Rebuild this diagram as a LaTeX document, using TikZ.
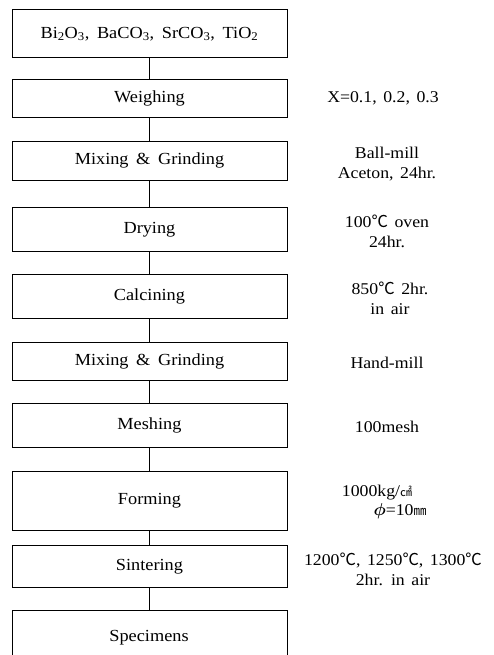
\documentclass[tikz,border=0pt]{standalone}
\usepackage{amsmath}
\usepackage{fontspec}
\setmainfont{Liberation Serif}[FakeStretch=1.08]
\newfontfamily\cjk{Noto Sans CJK KR}
\newcommand{\degc}{{\cjk ℃}}
\newcommand{\boxfont}{\fontsize{17}{20}\selectfont\spaceskip=0.45em plus 0.1em\relax}
\newcommand{\notefont}{\fontsize{16.5}{20}\selectfont\spaceskip=0.4em plus 0.1em\relax}
\begin{document}
\begin{tikzpicture}[x=1bp,y=-1bp,
  stepbox/.style={draw,line width=0.9bp,minimum width=275bp,inner sep=0pt,anchor=north west,font=\boxfont},
  note/.style={align=center,inner sep=0pt,font=\notefont},
  link/.style={line width=0.9bp}]
\useasboundingbox (0,0) rectangle (494,655);
\node[stepbox,minimum height=48bp] (s0) at (11.5,9.5) {Bi\textsubscript{2}O\textsubscript{3}, BaCO\textsubscript{3}, SrCO\textsubscript{3}, TiO\textsubscript{2}};
\node[stepbox,minimum height=38bp] (s1) at (11.5,79) {Weighing};
\node[stepbox,minimum height=39bp] (s2) at (11.5,141) {Mixing \& Grinding};
\node[stepbox,minimum height=44bp] (s3) at (11.5,207) {Drying};
\node[stepbox,minimum height=44bp] (s4) at (11.5,274) {Calcining};
\node[stepbox,minimum height=38bp] (s5) at (11.5,342) {Mixing \& Grinding};
\node[stepbox,minimum height=44bp] (s6) at (11.5,403) {Meshing};
\node[stepbox,minimum height=59bp] (s7) at (11.5,471) {Forming};
\node[stepbox,minimum height=42bp] (s8) at (11.5,545) {Sintering};
\node[stepbox,minimum height=58bp] (s9) at (11.5,610) {};
\node[font=\boxfont] (s9t) at (149,638) {Specimens};
\foreach \a/\b in {s0/s1,s1/s2,s2/s3,s3/s4,s4/s5,s5/s6,s6/s7,s7/s8,s8/s9}
  \draw[link] (\a.south) -- (\b.north);
\node[note] (n1) at (383,98) {X=0.1, 0.2, 0.3};
\node[note] (n2) at (387,164) {Ball-mill\\Aceton, 24hr.};
\node[note] (n3) at (387,231) {100\degc{} oven\\24hr.};
\node[note] (n4) at (390,298) {850\degc{} 2hr.\\in air};
\node[note] (n5) at (387,363) {Hand-mill};
\node[note] (n6) at (387,427) {100mesh};
\node[note] (n7a) at (377,493) {1000kg/{\cjk\fontsize{12}{12}\selectfont ㎠}};
\node[note] (n7b) at (400,511) {$\boldsymbol{\phi}$=10{\cjk\fontsize{13}{13}\selectfont ㎜}};
\node[note] (n8) at (393,569) {1200\degc, 1250\degc, 1300\degc\\2hr. in air};
\end{tikzpicture}
\end{document}
